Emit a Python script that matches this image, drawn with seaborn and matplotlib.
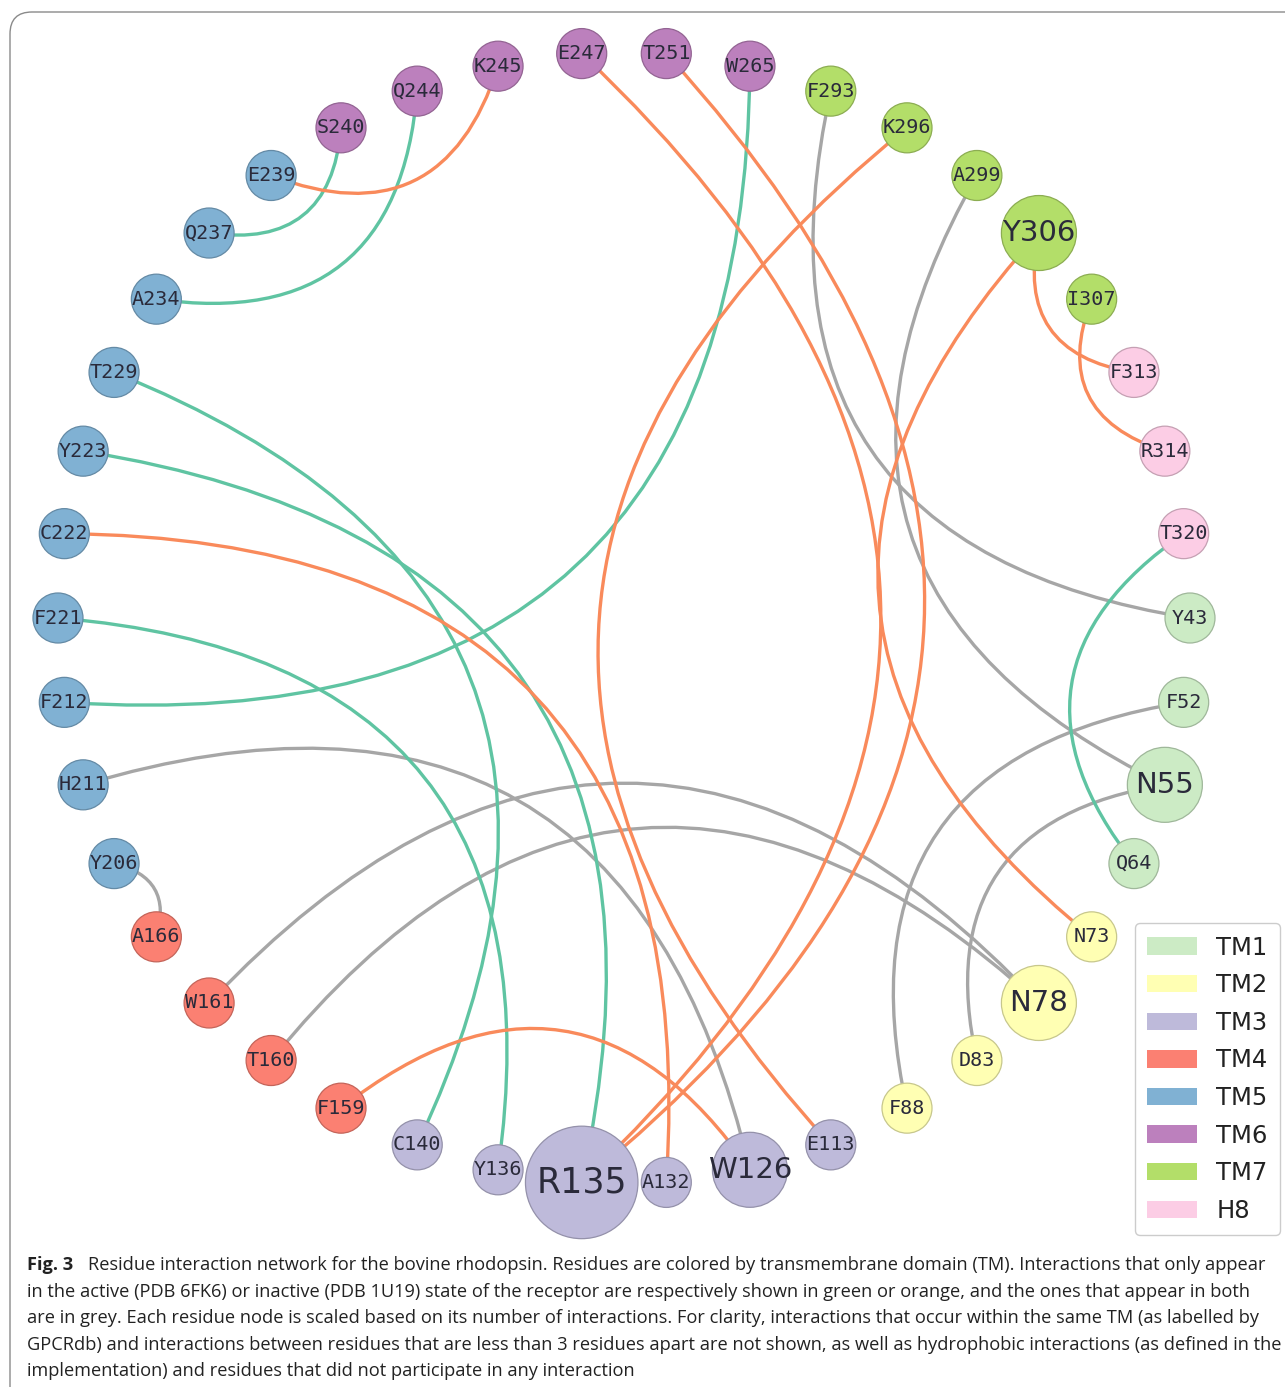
import numpy as np
import pandas as pd
import matplotlib
matplotlib.use("Agg")
import matplotlib.pyplot as plt
import seaborn as sns
from matplotlib.path import Path
from matplotlib.patches import PathPatch, Patch, FancyBboxPatch

# ---------------- data ----------------
residues = ["Y43", "F52", "N55", "Q64", "N73", "N78", "D83", "F88", "E113", "W126",
            "A132", "R135", "Y136", "C140", "F159", "T160", "W161", "A166", "Y206", "H211",
            "F212", "F221", "C222", "Y223", "T229", "A234", "Q237", "E239", "S240", "Q244",
            "K245", "E247", "T251", "W265", "F293", "K296", "A299", "Y306", "I307", "F313",
            "R314", "T320"]
domains = (["TM1"] * 4 + ["TM2"] * 4 + ["TM3"] * 6 + ["TM4"] * 4 + ["TM5"] * 10 +
           ["TM6"] * 6 + ["TM7"] * 5 + ["H8"] * 3)

domain_names = ["TM1", "TM2", "TM3", "TM4", "TM5", "TM6", "TM7", "H8"]
domain_colors = ["#ccebc5", "#ffffb3", "#bebada", "#fb8072", "#80b1d3", "#bc80bd", "#b3de69", "#fccde5"]

active_edges = [("Q237", "S240"), ("A234", "Q244"), ("F212", "W265"), ("T229", "C140"),
                ("Y223", "R135"), ("F221", "Y136"), ("T320", "Q64")]
inactive_edges = [("E239", "K245"), ("Y306", "F313"), ("I307", "R314"), ("C222", "A132"),
                  ("F159", "W126"), ("K296", "E113"), ("Y306", "N73"), ("E247", "R135"),
                  ("T251", "R135")]
both_edges = [("Y206", "A166"), ("H211", "W126"), ("W161", "N78"), ("T160", "N78"),
              ("F52", "F88"), ("N55", "D83"), ("F293", "Y43"), ("A299", "N55")]

caption_lines = [
    "Residue interaction network for the bovine rhodopsin. Residues are colored by transmembrane domain (TM). Interactions that only appear",
    "in the active (PDB 6FK6) or inactive (PDB 1U19) state of the receptor are respectively shown in green or orange, and the ones that appear in both",
    "are in grey. Each residue node is scaled based on its number of interactions. For clarity, interactions that occur within the same TM (as labelled by",
    "GPCRdb) and interactions between residues that are less than 3 residues apart are not shown, as well as hydrophobic interactions (as defined in the",
    "implementation) and residues that did not participate in any interaction",
]

# ---------------- layout (circular) ----------------
n = len(residues)
ang = -2 * np.pi * np.arange(n) / n
nodes = pd.DataFrame({"residue": residues, "domain": domains,
                      "x": np.cos(ang), "y": np.sin(ang)})
all_edges = active_edges + inactive_edges + both_edges
deg = {r: 0 for r in residues}
for a, b in all_edges:
    deg[a] += 1
    deg[b] += 1
nodes["degree"] = nodes["residue"].map(deg)
pos = {r: np.array([x, y]) for r, x, y in zip(nodes.residue, nodes.x, nodes.y)}
idx = {r: i for i, r in enumerate(residues)}

W, H = 1285, 1387
CX, CY, R = 624, 618, 566.0   # circle centre / radius in pixels

sns.set_style("white")
fig = plt.figure(figsize=(W / 100, H / 100), dpi=100)
ax = fig.add_axes([0, 0, 1, 1])
ax.set_xlim(-CX / R, (W - CX) / R)
ax.set_ylim((CY - H) / R, CY / R)
ax.set_aspect("equal")
ax.axis("off")

def px(xp, yp):
    return ((xp - CX) / R, (CY - yp) / R)

# outer rounded frame
x0, y0 = px(10, 12)
x1, y1 = px(1400, 1460)
ax.add_patch(FancyBboxPatch((x0, y1), x1 - x0, y0 - y1,
                            boxstyle="round,pad=0,rounding_size=%f" % (22 / R),
                            fc="none", ec="#8a8a8a", lw=1.0, zorder=0))

# ---------------- edges ----------------
RAD = 0.53
def draw_edge(a, b, color):
    i, j = sorted([idx[a], idx[b]])
    p1, p2 = pos[residues[i]], pos[residues[j]]
    mid = (p1 + p2) / 2
    d = p2 - p1
    perp = np.array([d[1], -d[0]])
    s = np.dot(-mid, perp)
    sign = 1.0 if abs(s) < 1e-6 else np.sign(s)
    ctrl = mid + sign * RAD * perp
    path = Path([p1, ctrl, p2], [Path.MOVETO, Path.CURVE3, Path.CURVE3])
    ax.add_patch(PathPatch(path, fc="none", ec=color, lw=2.4, zorder=1,
                           capstyle="round"))

for a, b in both_edges:
    draw_edge(a, b, "#a6a6a6")
for a, b in active_edges:
    draw_edge(a, b, "#5fc4a2")
for a, b in inactive_edges:
    draw_edge(a, b, "#f98a5b")

# ---------------- nodes ----------------
palette = dict(zip(domain_names, domain_colors))
diam_px = {d: 50 * 1.5 ** (d - 1) for d in sorted(nodes.degree.unique())}
sizes = {d: (v * 0.72) ** 2 for d, v in diam_px.items()}
sns.scatterplot(data=nodes, x="x", y="y", hue="domain", palette=palette,
                size="degree", sizes=sizes, legend=False, ax=ax,
                linewidth=0.9, zorder=3)
coll = ax.collections[-1]
fcs = coll.get_facecolors()
ecs = fcs.copy()
ecs[:, :3] = ecs[:, :3] * 0.78
coll.set_edgecolors(ecs)

label_fs = {1: 14.5, 2: 21, 3: 25}
for r, x, y, d in zip(nodes.residue, nodes.x, nodes.y, nodes.degree):
    fam = "DejaVu Sans Mono" if d == 1 else "DejaVu Sans"
    ax.text(x, y, r, ha="center", va="center", fontsize=label_fs[d],
            family=fam, color="#2a2a3a", zorder=4)

# ---------------- legend ----------------
handles = [Patch(facecolor=c, edgecolor="none", label=nm)
           for nm, c in zip(domain_names, domain_colors)]
leg = fig.legend(handles=handles, loc="lower right",
                 bbox_to_anchor=(1280 / W, 152 / H), fontsize=17.5,
                 handlelength=2.05, handleheight=0.72, labelspacing=0.56,
                 handletextpad=0.8, borderpad=0.5, borderaxespad=0,
                 frameon=True, fancybox=True, edgecolor="#cccccc", framealpha=1)
for t in leg.get_texts():
    t.set_color("#222222")

# ---------------- caption ----------------
base = [1270, 1297, 1323, 1350, 1376]
fs_cap = 13.15
fig.text(27 / W, 1 - base[0] / H, "Fig. 3", fontweight="bold", fontsize=fs_cap,
         family="Open Sans", va="baseline", color="#222222")
fig.text(88 / W, 1 - base[0] / H, caption_lines[0], fontsize=fs_cap,
         family="Open Sans", va="baseline", color="#222222")
for yb, line in zip(base[1:], caption_lines[1:]):
    fig.text(27 / W, 1 - yb / H, line, fontsize=fs_cap, family="Open Sans",
             va="baseline", color="#222222")

fig.savefig("out.png", dpi=100)
